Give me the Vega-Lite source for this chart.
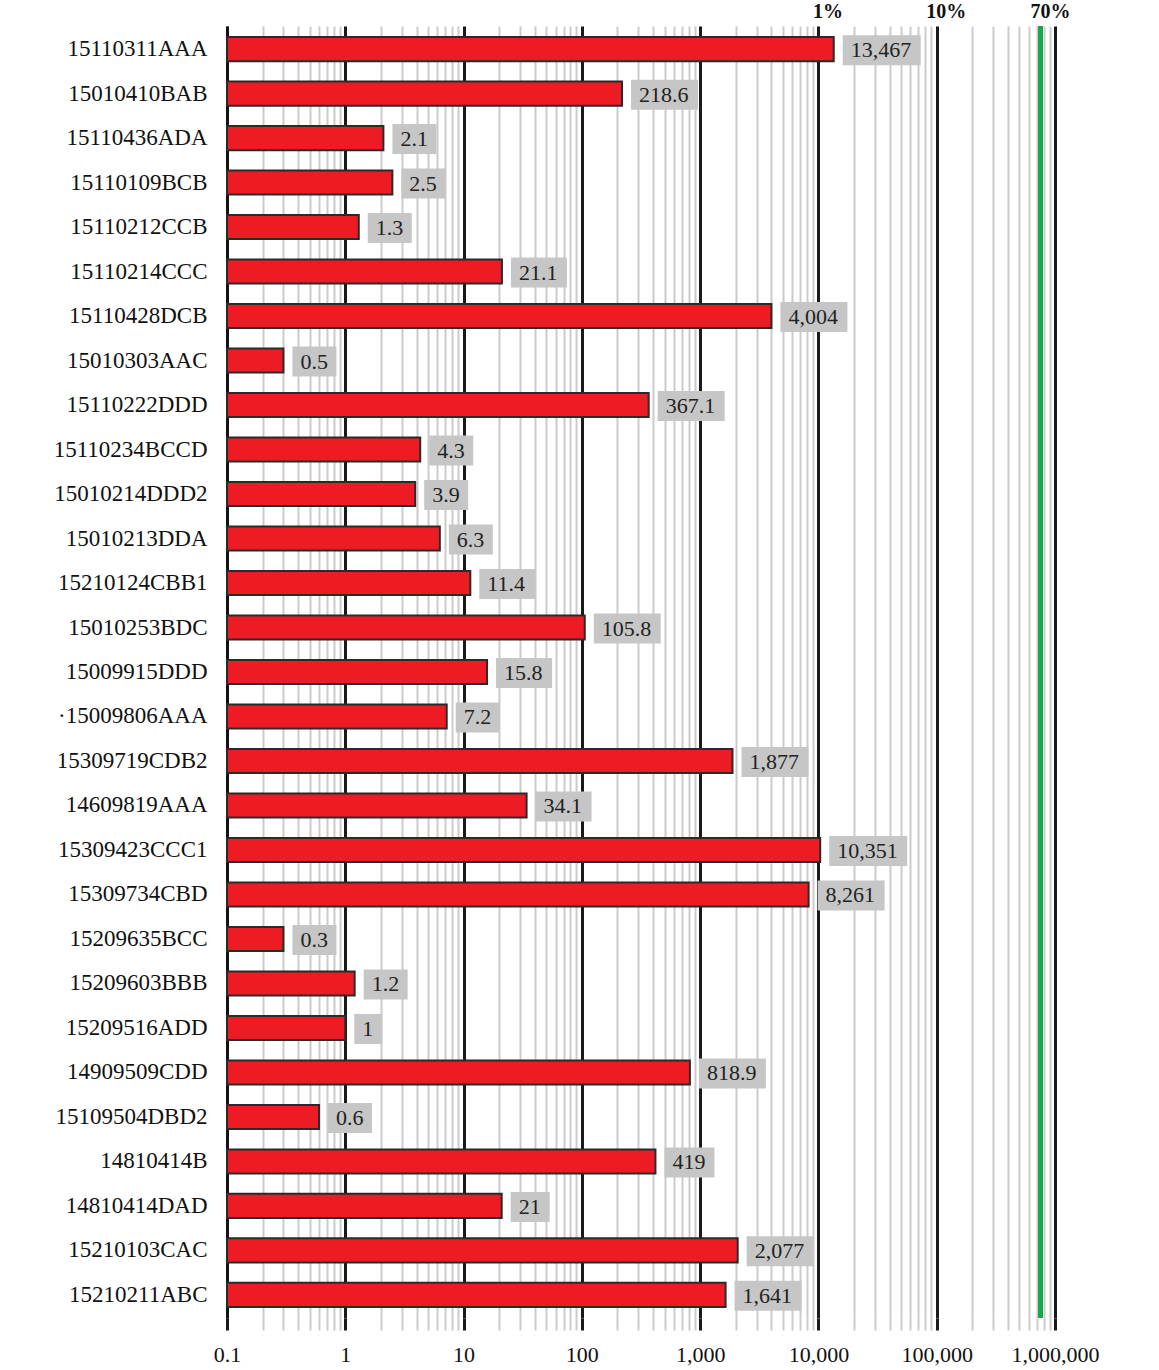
{
  "$schema": "https://vega.github.io/schema/vega-lite/v6.json",
  "autosize": "none",
  "width": 828,
  "height": 1292,
  "padding": {"left": 227, "top": 26, "right": 104, "bottom": 52},
  "background": "white",
  "config": {
    "view": {"stroke": null},
    "font": "Liberation Serif",
    "axis": {"labelFont": "Liberation Serif", "labelColor": "#111"}
  },
  "data": {
    "values": [
      {"site": "15110311AAA", "value": 13467, "label": "13,467"},
      {"site": "15010410BAB", "value": 218.6, "label": "218.6"},
      {"site": "15110436ADA", "value": 2.1, "label": "2.1"},
      {"site": "15110109BCB", "value": 2.5, "label": "2.5"},
      {"site": "15110212CCB", "value": 1.3, "label": "1.3"},
      {"site": "15110214CCC", "value": 21.1, "label": "21.1"},
      {"site": "15110428DCB", "value": 4004, "label": "4,004"},
      {"site": "15010303AAC", "value": 0.3, "label": "0.5"},
      {"site": "15110222DDD", "value": 367.1, "label": "367.1"},
      {"site": "15110234BCCD", "value": 4.3, "label": "4.3"},
      {"site": "15010214DDD2", "value": 3.9, "label": "3.9"},
      {"site": "15010213DDA", "value": 6.3, "label": "6.3"},
      {"site": "15210124CBB1", "value": 11.4, "label": "11.4"},
      {"site": "15010253BDC", "value": 105.8, "label": "105.8"},
      {"site": "15009915DDD", "value": 15.8, "label": "15.8"},
      {"site": "·15009806AAA", "value": 7.2, "label": "7.2"},
      {"site": "15309719CDB2", "value": 1877, "label": "1,877"},
      {"site": "14609819AAA", "value": 34.1, "label": "34.1"},
      {"site": "15309423CCC1", "value": 10351, "label": "10,351"},
      {"site": "15309734CBD", "value": 8261, "label": "8,261"},
      {"site": "15209635BCC", "value": 0.3, "label": "0.3"},
      {"site": "15209603BBB", "value": 1.2, "label": "1.2"},
      {"site": "15209516ADD", "value": 1, "label": "1"},
      {"site": "14909509CDD", "value": 818.9, "label": "818.9"},
      {"site": "15109504DBD2", "value": 0.6, "label": "0.6"},
      {"site": "14810414B", "value": 419, "label": "419"},
      {"site": "14810414DAD", "value": 21, "label": "21"},
      {"site": "15210103CAC", "value": 2077, "label": "2,077"},
      {"site": "15210211ABC", "value": 1641, "label": "1,641"}
    ]
  },
  "resolve": {"axis": {"x": "independent"}},
  "layer": [
    {
      "mark": {"type": "bar", "color": "#ed1c24", "stroke": "#2a2a2a", "strokeWidth": 2},
      "encoding": {
        "y": {
          "field": "site", "type": "nominal", "sort": null,
          "scale": {"paddingInner": 0.46, "paddingOuter": 0.25},
          "axis": {
            "title": null, "ticks": false, "labelFontSize": 23, "labelPadding": 20,
            "labelLimit": 400, "domain": true, "domainColor": "#111", "domainWidth": 2,
            "labelColor": "#111"
          }
        },
        "x": {
          "field": "value", "type": "quantitative",
          "scale": {"type": "log", "domain": [0.1, 1000000], "nice": false},
          "axis": {
            "title": null, "orient": "bottom", "domain": false, "labelOverlap": false,
            "values": [0.1,0.2,0.3,0.4,0.5,0.6,0.7,0.8,0.9,1,2,3,4,5,6,7,8,9,10,20,30,40,50,60,70,80,90,100,200,300,400,500,600,700,800,900,1000,2000,3000,4000,5000,6000,7000,8000,9000,10000,20000,30000,40000,50000,60000,70000,80000,90000,100000,200000,300000,400000,500000,600000,700000,800000,900000,1000000],
            "labelExpr": "indexof([0.1,1,10,100,1000,10000,100000,1000000], datum.value) >= 0 ? (datum.value < 1 ? '0.1' : format(datum.value, ',')) : ''",
            "labelFontSize": 22, "labelPadding": 14, "labelFlush": false,
            "grid": true,
            "gridColor": {"condition": {"test": "indexof([0.1,1,10,100,1000,10000,100000,1000000], datum.value) >= 0", "value": "#1a1a1a"}, "value": "#cbcbcb"},
            "gridWidth": {"condition": {"test": "indexof([0.1,1,10,100,1000,10000,100000,1000000], datum.value) >= 0", "value": 3}, "value": 2},
            "tickColor": {"condition": {"test": "indexof([0.1,1,10,100,1000,10000,100000,1000000], datum.value) >= 0", "value": "#1a1a1a"}, "value": "#cbcbcb"},
            "tickWidth": {"condition": {"test": "indexof([0.1,1,10,100,1000,10000,100000,1000000], datum.value) >= 0", "value": 3}, "value": 2},
            "tickSize": 12
          }
        },
        "x2": {"datum": 0.1}
      }
    },
    {
      "mark": {"type": "rule", "color": "#1aa64f", "strokeWidth": 4},
      "encoding": {
        "x": {
          "datum": 760000, "type": "quantitative",
          "axis": {
            "title": null, "orient": "top", "domain": false, "ticks": false, "grid": false,
            "values": [10000, 100000, 760000],
            "labelExpr": "datum.value == 10000 ? '1%' : (datum.value == 100000 ? '10%' : '70%')",
            "labelFontSize": 20, "labelFontWeight": "bold", "labelPadding": 5,
            "labelOffset": 9, "labelOverlap": false, "labelFlush": false
          }
        }
      }
    },
    {
      "mark": {"type": "point", "filled": true, "size": 4, "opacity": 1, "color": "#c6c6c6", "strokeWidth": 0},
      "encoding": {
        "y": {"field": "site", "type": "nominal", "sort": null},
        "x": {"field": "value", "type": "quantitative", "axis": null},
        "shape": {
          "field": "label", "type": "nominal", "legend": null,
          "scale": {
            "domain": ["13,467","218.6","2.1","2.5","1.3","21.1","4,004","0.5","367.1","4.3","3.9","6.3","11.4","105.8","15.8","7.2","1,877","34.1","10,351","8,261","0.3","1.2","1","818.9","0.6","419","21","2,077","1,641"],
            "range": [
              "M9,-14H87V16H9Z","M9,-14H76V16H9Z","M9,-14H53V16H9Z","M9,-14H53V16H9Z","M9,-14H53V16H9Z","M9,-14H65V16H9Z","M9,-14H76V16H9Z","M9,-14H53V16H9Z","M9,-14H76V16H9Z","M9,-14H53V16H9Z","M9,-14H53V16H9Z","M9,-14H53V16H9Z","M9,-14H65V16H9Z","M9,-14H76V16H9Z","M9,-14H65V16H9Z","M9,-14H53V16H9Z","M9,-14H76V16H9Z","M9,-14H65V16H9Z","M9,-14H87V16H9Z","M9,-14H76V16H9Z","M9,-14H53V16H9Z","M9,-14H53V16H9Z","M9,-14H37V16H9Z","M9,-14H76V16H9Z","M9,-14H53V16H9Z","M9,-14H59V16H9Z","M9,-14H48V16H9Z","M9,-14H76V16H9Z","M9,-14H76V16H9Z"
            ]
          }
        }
      }
    },
    {
      "mark": {"type": "text", "align": "left", "baseline": "middle", "dx": 17, "dy": 1, "fontSize": 22, "font": "Liberation Serif", "color": "#222"},
      "encoding": {
        "y": {"field": "site", "type": "nominal", "sort": null},
        "x": {"field": "value", "type": "quantitative", "axis": null},
        "text": {"field": "label", "type": "nominal"}
      }
    }
  ]
}
